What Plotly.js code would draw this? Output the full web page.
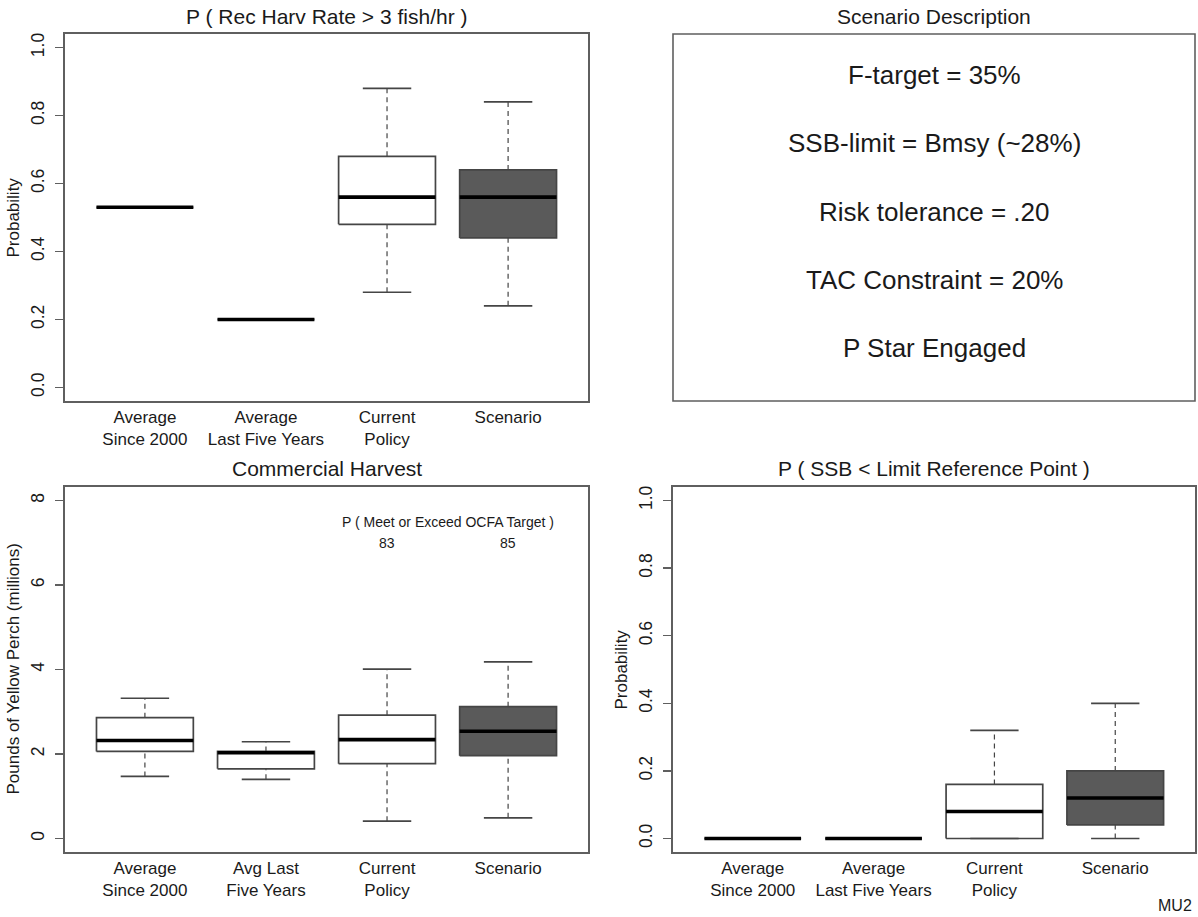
<!DOCTYPE html>
<html>
<head>
<meta charset="utf-8">
<script src="https://cdn.plot.ly/plotly-3.0.1.min.js"></script>
<style>html,body{margin:0;padding:0;background:#fff;}#chart{width:1198px;height:917px;}</style>
</head>
<body>
<div id="chart"></div>
<script>
// ---------- DATA ----------
const labelsProb = ["Average<br>Since 2000", "Average<br>Last Five Years", "Current<br>Policy", "Scenario"];
const labelsHarvest = ["Average<br>Since 2000", "Avg Last<br>Five Years", "Current<br>Policy", "Scenario"];

// P ( Rec Harv Rate > 3 fish/hr )
const recLower  = [0.53, 0.20, 0.28, 0.24];
const recQ1     = [0.53, 0.20, 0.48, 0.44];
const recMedian = [0.53, 0.20, 0.56, 0.56];
const recQ3     = [0.53, 0.20, 0.68, 0.64];
const recUpper  = [0.53, 0.20, 0.88, 0.84];

// Commercial Harvest (millions of lbs)
const harvLower  = [1.47, 1.40, 0.41, 0.49];
const harvQ1     = [2.06, 1.65, 1.77, 1.96];
const harvMedian = [2.32, 2.03, 2.34, 2.54];
const harvQ3     = [2.86, 2.06, 2.92, 3.12];
const harvUpper  = [3.32, 2.29, 4.01, 4.18];

// P ( SSB < Limit Reference Point )
const ssbLower  = [0, 0, 0, 0];
const ssbQ1     = [0, 0, 0, 0.04];
const ssbMedian = [0, 0, 0.08, 0.12];
const ssbQ3     = [0, 0, 0.16, 0.20];
const ssbUpper  = [0, 0, 0.32, 0.40];

const boxFills = ["#ffffff", "#ffffff", "#ffffff", "#5a5a5a"];

const ocfaLabel = "P ( Meet or Exceed OCFA Target )";
const ocfaProb = [83, 85];          // Current Policy, Scenario
const ocfaCats = [3, 4];
const ocfaLabelY = 7.5, ocfaValueY = 7;

const descriptionLines = ["F-target = 35%", "SSB-limit = Bmsy (~28%)", "Risk tolerance = .20", "TAC Constraint = 20%", "P Star Engaged"];

const probTicks = [0, 0.2, 0.4, 0.6, 0.8, 1.0];
const harvTicks = [0, 2, 4, 6, 8];

// ---------- STYLE ----------
const W = 1198, H = 917;
const FONT = "Liberation Sans, Arial, Helvetica, sans-serif";
const TXT = "#1a1a1a";
const FRAME = "#5f5f5f";
const BOXLINE = "#454545";
const BOXW = 0.8, CAPW = 0.4;
const px = x => x / W;
const py = y => 1 - y / H;

function boxTraces(xa, ya, lower, q1, med, q3, upper) {
  const traces = [];
  const wx = [], wy = [], cx = [], cy = [];
  lower.forEach((_, i) => {
    const c = i + 1;
    wx.push(c, c, null, c, c, null);
    wy.push(lower[i], q1[i], null, q3[i], upper[i], null);
    cx.push(c - CAPW / 2, c + CAPW / 2, null, c - CAPW / 2, c + CAPW / 2, null);
    cy.push(lower[i], lower[i], null, upper[i], upper[i], null);
  });
  traces.push({type: "scatter", mode: "lines", xaxis: xa, yaxis: ya, x: wx, y: wy,
    line: {color: BOXLINE, width: 1.2, dash: "5px,4px"}, hoverinfo: "skip", showlegend: false});
  lower.forEach((_, i) => {
    const c = i + 1, h = BOXW / 2;
    traces.push({type: "scatter", mode: "lines", xaxis: xa, yaxis: ya,
      x: [c - h, c + h, c + h, c - h, c - h], y: [q1[i], q1[i], q3[i], q3[i], q1[i]],
      fill: "toself", fillcolor: boxFills[i], line: {color: BOXLINE, width: 1.7},
      hoverinfo: "skip", showlegend: false});
  });
  traces.push({type: "scatter", mode: "lines", xaxis: xa, yaxis: ya, x: cx, y: cy,
    line: {color: BOXLINE, width: 1.7}, hoverinfo: "skip", showlegend: false});
  const mx = [], my = [];
  med.forEach((m, i) => { const c = i + 1; mx.push(c - BOXW / 2, c + BOXW / 2, null); my.push(m, m, null); });
  traces.push({type: "scatter", mode: "lines", xaxis: xa, yaxis: ya, x: mx, y: my,
    line: {color: "#000", width: 3.6}, hoverinfo: "skip", showlegend: false});
  return traces;
}

const data = [].concat(
  boxTraces("x", "y", recLower, recQ1, recMedian, recQ3, recUpper),
  boxTraces("x3", "y3", harvLower, harvQ1, harvMedian, harvQ3, harvUpper),
  boxTraces("x4", "y4", ssbLower, ssbQ1, ssbMedian, ssbQ3, ssbUpper)
);

const domL = [px(65), px(588)], domR = [px(673), px(1195)];
const domT = [py(401), py(34)], domB = [py(852), py(487)];

function xAxis(dom, anchor, labels) {
  return {domain: dom, anchor: anchor, range: [0.34, 4.66], tickvals: [1, 2, 3, 4], ticktext: labels,
    ticks: "", showgrid: false, zeroline: false, showline: true, mirror: true,
    linecolor: FRAME, linewidth: 1.6, tickfont: {size: 17, color: TXT, family: FONT}, fixedrange: true};
}
function yAxis(dom, anchor, range, ticks, fmt) {
  return {domain: dom, anchor: anchor, range: range, tickvals: ticks, tickformat: fmt,
    ticks: "outside", ticklen: 8, tickwidth: 1.4, tickcolor: FRAME, tickangle: -90, ticklabelstandoff: 4,
    showgrid: false, zeroline: false, showline: true, mirror: true,
    linecolor: FRAME, linewidth: 1.6, tickfont: {size: 17.5, color: TXT, family: FONT}, fixedrange: true};
}

const annotations = [];
function note(text, x, y, size, opts) {
  annotations.push(Object.assign({text: text, xref: "paper", yref: "paper", x: px(x), y: py(y),
    xanchor: "center", yanchor: "middle", showarrow: false,
    font: {size: size, color: TXT, family: FONT}}, opts || {}));
}
// panel titles
note("P ( Rec Harv Rate > 3 fish/hr )", 326.5, 17, 21);
note("Scenario Description", 934, 17, 21);
note("Commercial Harvest", 326.5, 469, 21);
note("P ( SSB < Limit Reference Point )", 934, 469, 21);
// y-axis titles
note("Probability", 13, 217.5, 17, {textangle: -90});
note("Pounds of Yellow Perch (millions)", 13, 669.5, 17, {textangle: -90});
note("Probability", 621, 669.5, 17, {textangle: -90});
// scenario description
const descY = [75, 143, 212, 280, 348];
descriptionLines.forEach((t, i) => note(t, 934, descY[i], 26));
// OCFA annotation
annotations.push({text: ocfaLabel, xref: "x3", yref: "y3", x: (ocfaCats[0] + ocfaCats[1]) / 2, y: ocfaLabelY,
  showarrow: false, xanchor: "center", yanchor: "middle", font: {size: 14, color: TXT, family: FONT}});
ocfaProb.forEach((v, i) => annotations.push({text: String(v), xref: "x3", yref: "y3", x: ocfaCats[i], y: ocfaValueY,
  showarrow: false, xanchor: "center", yanchor: "middle", font: {size: 14, color: TXT, family: FONT}}));
note("MU2", 1194, 905, 16, {xanchor: "right"});

const layout = {
  width: W, height: H, margin: {l: 0, r: 0, t: 0, b: 0},
  paper_bgcolor: "#fff", plot_bgcolor: "#fff", showlegend: false,
  font: {family: FONT, color: TXT},
  xaxis: xAxis(domL, "y", labelsProb),
  yaxis: yAxis(domT, "x", [-0.04, 1.04], probTicks, ".1f"),
  xaxis3: xAxis(domL, "y3", labelsHarvest),
  yaxis3: yAxis(domB, "x3", [-0.32, 8.32], harvTicks, "d"),
  xaxis4: xAxis(domR, "y4", labelsProb),
  yaxis4: yAxis(domB, "x4", [-0.04, 1.04], probTicks, ".1f"),
  shapes: [{type: "rect", xref: "paper", yref: "paper", x0: domR[0], x1: domR[1], y0: domT[0], y1: domT[1],
    line: {color: FRAME, width: 1.6}, fillcolor: "rgba(0,0,0,0)"}],
  annotations: annotations
};

Plotly.newPlot("chart", data, layout, {staticPlot: true, displayModeBar: false});
</script>
</body>
</html>
